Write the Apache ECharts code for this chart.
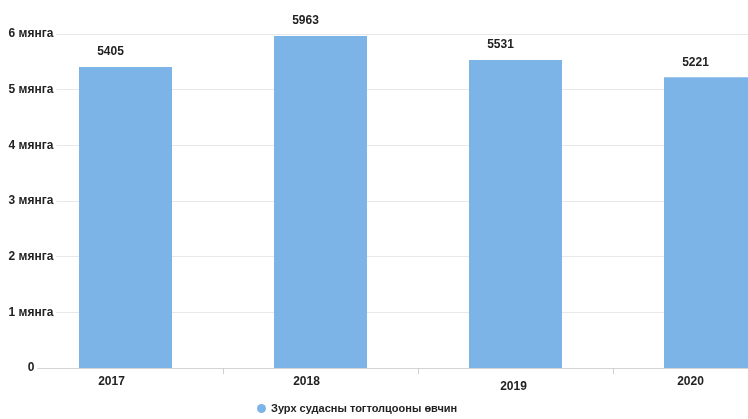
<!DOCTYPE html>
<html><head><meta charset="utf-8">
<script src="https://cdn.jsdelivr.net/npm/echarts@6/dist/echarts.min.js"></script>
<style>html,body{margin:0;padding:0;background:#fff;overflow:hidden;width:748px;height:419px}#c{width:808px;height:419px}</style>
</head><body><div id="c"></div>
<script>
const categories = ['2017', '2018', '2019', '2020'];
const values = [5405, 5963, 5531, 5221];
const yTickLabels = ['0', '1 мянга', '2 мянга', '3 мянга', '4 мянга', '5 мянга', '6 мянга'];
const seriesName = 'Зурх судасны тогтолцооны өвчин';

// per-label nudges (the reference labels are slightly scattered)
const xLabelPadding = [[0, 28, 0, 0], [0, 28, 0, 0], [5, 4, 0, 0], [0, 40, 0, 0]];

const FONT = "'Liberation Sans Narrow', 'Liberation Sans', Arial, sans-serif";
const chart = echarts.init(document.getElementById('c'));
chart.setOption({
  animation: false,
  grid: { left: 28, top: 34, right: 0, bottom: 51 },
  legend: {
    data: [seriesName], top: 398, left: 252, icon: 'circle', itemWidth: 9, itemHeight: 9, itemGap: 7,
    textStyle: { fontFamily: FONT, fontWeight: 'bold', fontSize: 11, color: '#222' }
  },
  xAxis: {
    type: 'category',
    data: categories.map((c, i) => ({ value: c, textStyle: { padding: xLabelPadding[i] } })),
    axisLine: { lineStyle: { color: '#d4d4d4' } },
    axisTick: { show: true, alignWithLabel: false, length: 6, lineStyle: { color: '#cfcfcf' } },
    axisLabel: { fontFamily: FONT, fontWeight: 'bold', fontSize: 12, color: '#222', margin: 8 }
  },
  yAxis: {
    type: 'value', min: 0, max: 6000, interval: 1000,
    axisLine: { show: false }, axisTick: { show: false },
    splitLine: { lineStyle: { color: '#e8e8e8' } },
    axisLabel: {
      formatter: (v) => yTickLabels[Math.round(v / 1000)],
      align: 'center', margin: -3,
      backgroundColor: '#fff', padding: [2, 3, 2, 3],
      fontFamily: FONT, fontWeight: 'bold', fontSize: 12, color: '#222'
    }
  },
  series: [{
    name: seriesName, type: 'bar', data: values, barWidth: 93,
    itemStyle: { color: '#7cb4e8' },
    label: { show: true, position: 'top', distance: 9, offset: [-15, 0],
      fontFamily: FONT, fontWeight: 'bold', fontSize: 12, color: '#222' }
  }]
});
</script></body></html>
